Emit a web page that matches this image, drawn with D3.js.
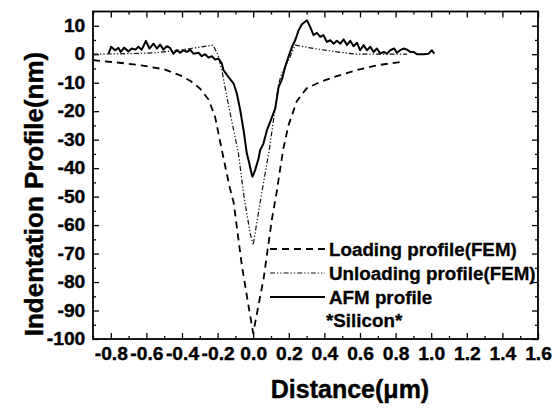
<!DOCTYPE html>
<html>
<head>
<meta charset="utf-8">
<script src="https://cdn.jsdelivr.net/npm/d3@7"></script>
<style>
  html, body { margin: 0; padding: 0; background: #fff; }
  svg text { font-family: "Liberation Sans", Arial, sans-serif; font-weight: bold; fill: #000; }
</style>
</head>
<body>
<svg id="chart" width="553" height="408"></svg>
<script>
// Indentation profiles across the indent (distance in µm, depth in nm)
const loadingX = [-0.9, -0.75, -0.63, -0.5, -0.41, -0.35, -0.3, -0.25, -0.214, -0.176, -0.135, -0.11, -0.064, -0.03, 0.0,
                  0.03, 0.058, 0.105, 0.133, 0.152, 0.17, 0.198, 0.245, 0.3, 0.377, 0.47, 0.58, 0.695, 0.85];
const loadingY = [-2.1, -3.0, -3.9, -5.3, -7.4, -9.5, -12, -16, -22, -33.7, -46, -52, -74, -87, -98,
                  -88, -79, -58, -48, -40, -33, -25, -16.5, -12, -9.7, -7.7, -5.6, -3.9, -2.5];

const unloadingX = [-0.9, -0.7, -0.55, -0.45, -0.35, -0.225, -0.197, -0.176, -0.148, -0.11, -0.083, -0.054, -0.017, 0.0,
                    0.01, 0.05, 0.09, 0.143, 0.16, 0.198, 0.236, 0.34, 0.47, 0.58, 0.865];
const unloadingY = [0, 0.2, 0.5, 1.2, 2.0, 3.2, -0.4, -5.6, -15, -26.7, -34.8, -49, -63, -67,
                    -63, -48, -33.7, -10.3, -6.8, -2.1, 3.2, 2.0, 0.8, 0, 0];

const afmX = [-0.813, -0.798, -0.776, -0.757, -0.744, -0.725, -0.701, -0.682, -0.663, -0.645, -0.626, -0.603, -0.583,
              -0.56, -0.541, -0.523, -0.504, -0.485, -0.467, -0.448, -0.429, -0.41, -0.392, -0.373, -0.354, -0.336,
              -0.307, -0.289, -0.27, -0.251, -0.232, -0.214, -0.195, -0.176, -0.167, -0.139, -0.11, -0.092, -0.073,
              -0.054, -0.036, -0.026, -0.007, -0.004, 0.011, 0.03, 0.039, 0.058, 0.077, 0.096, 0.124, 0.143, 0.16,
              0.18, 0.198, 0.218, 0.236, 0.255, 0.274, 0.302, 0.32, 0.339, 0.358, 0.377, 0.395, 0.414, 0.433, 0.452,
              0.47, 0.49, 0.508, 0.527, 0.545, 0.564, 0.583, 0.601, 0.62, 0.639, 0.658, 0.676, 0.695, 0.714, 0.733,
              0.751, 0.77, 0.792, 0.807, 0.826, 0.845, 0.864, 0.882, 0.901, 0.92, 0.957, 0.985, 1.004, 1.017];
const afmY = [0.2, 2.6, 1.4, 2.2, 0.8, 2.3, 1.0, 2.0, 1.6, 2.6, 1.6, 4.7, 2.0,
              3.7, 2.0, 3.4, 1.6, 2.8, 2.2, 0.2, 1.4, 0.5, 1.4, 0.8, 1.6, 0.2,
              0.5, -0.7, 0, -1.2, -0.7, -1.9, -1.5, -3.3, -5.6, -8, -10.3, -13.8, -19.6,
              -26.7, -34.8, -37.2, -42.5, -43, -40.7, -36.6, -33.7, -31.3, -26.7, -23.7, -19, -11.5, -9.1,
              -4.4, -0.9, 2.6, 4.9, 8.4, 10.5, 11.9, 9.6, 6.7, 7.5, 6.1, 6.7, 4.3, 4.9, 3.7,
              4.7, 3.7, 5.2, 3.2, 4.7, 2.8, 4.0, 1.4, 3.2, 1.4, 2.6, 0.8, 2.0, 0.2, 0.8,
              0.2, 1.4, 2.0, 0.5, 1.4, 2.0, 1.6, 0.8, 0.8, 0, 0, 0.2, 1.4, 0.2];

const xMajorTicks = [-0.8, -0.6, -0.4, -0.2, 0.0, 0.2, 0.4, 0.6, 0.8, 1.0, 1.2, 1.4, 1.6];
const xMinorTicks = [-0.9, -0.7, -0.5, -0.3, -0.1, 0.1, 0.3, 0.5, 0.7, 0.9, 1.1, 1.3, 1.5];
const yMajorTicks = [10, 0, -10, -20, -30, -40, -50, -60, -70, -80, -90, -100];
const yMinorTicks = [5, -5, -15, -25, -35, -45, -55, -65, -75, -85, -95];

const legendLabels = ["Loading profile(FEM)", "Unloading profile(FEM)", "AFM profile"];
const noteLabel = "*Silicon*";
const xTitle = "Distance(\u03bcm)";
const yTitle = "Indentation Profile(nm)";

const svg = d3.select("#chart");
const plotLeft = 93, plotRight = 538, plotTop = 11.5, plotBottom = 339;

const x = d3.scaleLinear().domain([-0.9, 1.6]).range([plotLeft, plotRight]);
const y = d3.scaleLinear().domain([-100, 15]).range([plotBottom, plotTop]);

// tick labels use a plain hyphen for negatives
const locale = d3.formatLocale({ decimal: ".", thousands: ",", grouping: [3], currency: ["", ""], minus: "-" });
const fmt = locale.format(".1f");
const yfmt = locale.format("d");

// axes: major ticks labelled, minor ticks short, all pointing into the frame
function drawAxis(axisFn, scale, ticks, size, format, transform, fontSize, pad) {
  const ax = axisFn(scale).tickValues(ticks).tickSizeInner(-size).tickSizeOuter(0)
    .tickPadding(format ? pad : 0).tickFormat(format || (() => ""));
  const g = svg.append("g").attr("transform", transform).call(ax);
  g.select(".domain").remove();
  g.selectAll(".tick line").attr("stroke", "#000").attr("stroke-width", 1.3);
  g.selectAll("text").attr("font-size", fontSize).attr("fill", "#000")
    .attr("stroke", "#000").attr("stroke-width", 0.35)
    .attr("transform", "scale(1.1,1)")
    .attr("font-family", "Liberation Sans, Arial, sans-serif").attr("font-weight", "bold");
  return g;
}

// bottom
drawAxis(d3.axisBottom, x, xMajorTicks, 6, fmt, `translate(0,${plotBottom})`, 17.5, 9);
drawAxis(d3.axisBottom, x, xMinorTicks, 3, null, `translate(0,${plotBottom})`, 17, 0);
// top
drawAxis(d3.axisTop, x, xMajorTicks, 6, null, `translate(0,${plotTop})`, 17, 0);
drawAxis(d3.axisTop, x, xMinorTicks, 3, null, `translate(0,${plotTop})`, 17, 0);
// left
drawAxis(d3.axisLeft, y, yMajorTicks, 6, yfmt, `translate(${plotLeft},0)`, 17.5, 7);
drawAxis(d3.axisLeft, y, yMinorTicks, 3, null, `translate(${plotLeft},0)`, 17, 0);
// right
drawAxis(d3.axisRight, y, yMajorTicks, 6, null, `translate(${plotRight},0)`, 17, 0);
drawAxis(d3.axisRight, y, yMinorTicks, 3, null, `translate(${plotRight},0)`, 17, 0);

// frame
svg.append("rect").attr("x", plotLeft).attr("y", plotTop)
  .attr("width", plotRight - plotLeft).attr("height", plotBottom - plotTop)
  .attr("fill", "none").attr("stroke", "#000").attr("stroke-width", 1.8);

const line = d3.line().x(d => x(d[0])).y(d => y(d[1]));
const zip = (a, b) => a.map((v, i) => [v, b[i]]);

const styles = [
  { dash: "7,5", width: 1.8, color: "#000" },
  { dash: "5,2,1.3,2,1.3,2", width: 1.2, color: "#111" },
  { dash: null, width: 2, color: "#000" }
];
const series = [zip(loadingX, loadingY), zip(unloadingX, unloadingY), zip(afmX, afmY)];

series.forEach((pts, i) => {
  svg.append("path").datum(pts).attr("d", line).attr("fill", "none")
    .attr("stroke", styles[i].color).attr("stroke-width", styles[i].width)
    .attr("stroke-dasharray", styles[i].dash).attr("stroke-linejoin", "round");
});

// legend
const legY = [249, 273, 297];
legendLabels.forEach((lab, i) => {
  svg.append("line").attr("x1", 270).attr("x2", 325).attr("y1", legY[i]).attr("y2", legY[i])
    .attr("stroke", styles[i].color).attr("stroke-width", styles[i].width)
    .attr("stroke-dasharray", styles[i].dash);
  svg.append("text").attr("x", 329).attr("y", legY[i]).attr("dy", "0.36em")
    .attr("font-size", 18.8).attr("stroke", "#000").attr("stroke-width", 0.3).text(lab);
});
svg.append("text").attr("x", 326).attr("y", 320).attr("dy", "0.36em").attr("font-size", 18.8)
  .attr("stroke", "#000").attr("stroke-width", 0.3).text(noteLabel);

// axis titles
svg.append("text").attr("x", 350).attr("y", 398).attr("text-anchor", "middle")
  .attr("font-size", 25).attr("stroke", "#000").attr("stroke-width", 0.4).text(xTitle);
svg.append("text").attr("transform", "translate(43,194) rotate(-90)").attr("text-anchor", "middle")
  .attr("font-size", 26).attr("stroke", "#000").attr("stroke-width", 0.4).text(yTitle);
</script>
</body>
</html>
